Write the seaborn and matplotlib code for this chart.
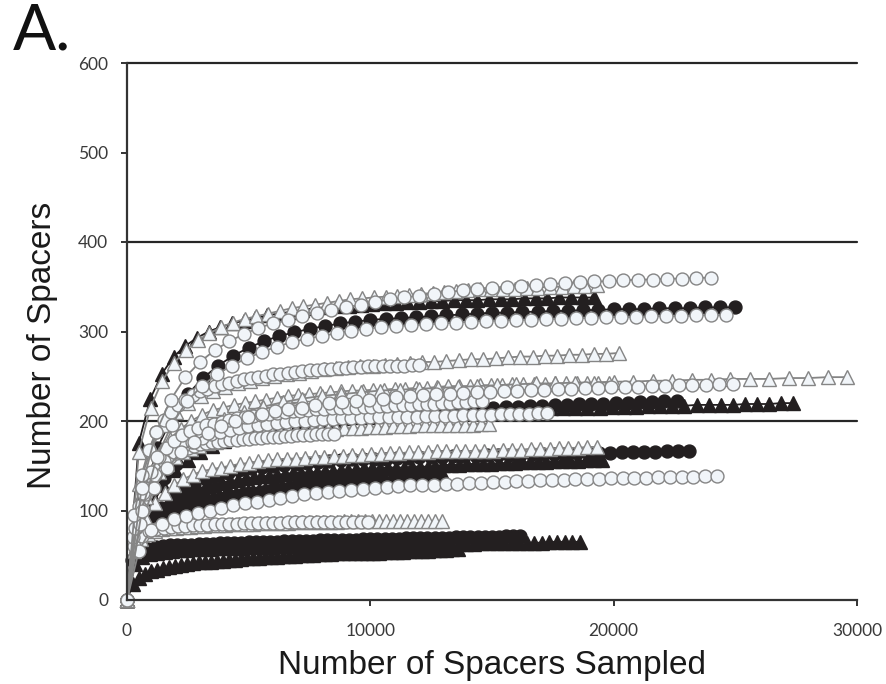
import numpy as np
import pandas as pd
import matplotlib
matplotlib.use("Agg")
import matplotlib.pyplot as plt
import seaborn as sns

# Rarefaction curves, panel A. Each curve: sampling step (spacers) and
# number of distinct spacers found at each step.

# ---- open circles ----
oc_360_step = 600
oc_360 = [0, 125, 188, 224, 249, 266, 279, 289, 297, 304, 309, 313, 317, 321, 324, 327, 330, 333, 336, 338,
          340, 342, 344, 346, 348, 349, 350, 351, 352, 353, 354, 355, 356, 356, 357, 358, 358, 359, 359, 360, 360]
oc_318_step = 615
oc_318 = [0, 100, 160, 196, 222, 239, 252, 262, 270, 277, 283, 288, 292, 295, 298, 301, 303, 305, 306, 307,
          308, 309, 310, 311, 312, 312, 313, 313, 314, 314, 315, 315, 316, 316, 316, 317, 317, 317, 318, 318, 318]
oc_263_step = 300
oc_263 = [0, 95, 140, 168, 188, 201, 210, 218, 224, 229, 233, 236, 239, 241, 243, 245, 247, 248, 249, 250,
          252, 253, 254, 255, 256, 257, 257, 258, 258, 259, 259, 260, 260, 261, 261, 261, 262, 262, 262, 263, 263]
oc_241_step = 553
oc_241 = [0, 85, 125, 148, 165, 177, 187, 194, 200, 204, 208, 211, 213, 215, 218, 220, 221, 222, 224, 225,
          227, 228, 229, 230, 230, 231, 232, 232, 233, 234, 235, 235, 236, 236, 237, 237, 238, 238, 238, 239,
          239, 240, 240, 240, 241, 241]
oc_222_step = 324
oc_222 = [0, 80, 120, 143, 160, 170, 178, 184, 189, 192, 195, 197, 199, 201, 203, 205, 206, 207, 208, 209,
          210, 211, 211, 212, 213, 213, 214, 214, 215, 215, 216, 216, 217, 217, 218, 218, 218, 219, 219, 219,
          220, 220, 221, 221, 222, 222]
oc_209_step = 384
oc_209 = [0, 80, 118, 140, 155, 165, 172, 177, 181, 185, 188, 190, 192, 194, 195, 197, 198, 199, 200, 200,
          201, 202, 202, 203, 203, 203, 204, 204, 204, 205, 205, 205, 206, 206, 206, 206, 207, 207, 207, 207,
          208, 208, 208, 208, 209, 209]
oc_186_step = 250
oc_186 = [0, 70, 105, 125, 138, 148, 155, 160, 164, 167, 170, 172, 174, 175, 176, 177, 178, 179, 179, 180,
          180, 181, 181, 182, 182, 182, 183, 183, 184, 184, 184, 185, 185, 185, 186]
oc_138_step = 485
oc_138 = [0, 55, 78, 85, 90, 94, 97, 100, 103, 106, 108, 110, 112, 114, 116, 118, 120, 121, 122, 123,
          124, 125, 126, 127, 128, 128, 129, 130, 130, 131, 131, 132, 132, 133, 133, 134, 134, 134, 135, 135,
          135, 136, 136, 136, 136, 137, 137, 137, 137, 138, 138]
oc_87_step = 300
oc_87 = [0, 60, 72, 77, 79, 81, 82, 83, 83, 84, 84, 84, 85, 85, 85, 85, 86, 86, 86, 86,
         86, 86, 87, 87, 87, 87, 87, 87, 87, 87, 87, 87, 87, 87]

# ---- open triangles ----
ot_352_step = 483
ot_352 = [0, 165, 215, 245, 265, 279, 290, 298, 305, 310, 314, 317, 320, 323, 326, 328, 330, 332, 334, 336,
          337, 338, 339, 340, 341, 342, 343, 344, 345, 346, 347, 347, 348, 348, 349, 349, 350, 350, 351, 351, 352]
ot_276_step = 505
ot_276 = [0, 130, 170, 195, 210, 220, 228, 234, 238, 242, 245, 248, 250, 252, 254, 256, 258, 259, 260, 261,
          262, 263, 264, 265, 266, 266, 267, 268, 269, 269, 270, 271, 272, 272, 273, 273, 274, 274, 275, 275, 276]
ot_249_step = 800
ot_249 = [0, 115, 155, 176, 192, 202, 210, 216, 221, 225, 228, 230, 232, 234, 235, 236, 237, 238, 239, 240,
          241, 242, 242, 243, 243, 244, 244, 245, 245, 246, 246, 247, 247, 247, 248, 248, 249, 249]
ot_243_step = 440
ot_243 = [0, 100, 140, 163, 180, 191, 200, 207, 212, 215, 218, 220, 222, 224, 226, 228, 229, 230, 231, 232,
          233, 234, 234, 235, 235, 236, 236, 237, 237, 238, 239, 239, 239, 240, 240, 240, 241, 241, 241, 241,
          242, 242, 242, 242, 243, 243]
ot_197_step = 331
ot_197 = [0, 75, 110, 130, 143, 152, 160, 165, 169, 172, 175, 177, 179, 181, 182, 184, 185, 186, 187, 188,
          189, 189, 190, 190, 191, 191, 191, 192, 192, 192, 193, 193, 193, 194, 194, 194, 195, 195, 195, 195,
          196, 196, 196, 196, 197, 197]
ot_171_step = 386
ot_171 = [0, 60, 90, 108, 120, 128, 135, 140, 144, 146, 148, 150, 152, 153, 155, 156, 157, 158, 158, 159,
          160, 160, 161, 161, 162, 162, 163, 163, 164, 164, 165, 165, 165, 166, 166, 166, 166, 167, 167, 167,
          168, 168, 168, 169, 169, 169, 170, 170, 170, 171, 171]
ot_88_step = 288
ot_88 = [0, 55, 68, 74, 77, 79, 80, 81, 82, 82, 83, 83, 84, 84, 84, 85, 85, 85, 85, 86,
         86, 86, 86, 86, 87, 87, 87, 87, 87, 87, 87, 88, 88, 88, 88, 88, 88, 88, 88, 88,
         88, 88, 88, 88, 88, 88]

# ---- filled circles ----
fc_327_step = 625
fc_327 = [0, 110, 170, 205, 230, 248, 262, 273, 282, 289, 295, 299, 303, 306, 309, 311, 313, 314, 315, 316,
          317, 318, 319, 320, 321, 321, 322, 322, 323, 323, 324, 324, 325, 325, 325, 326, 326, 326, 327, 327, 327]
fc_222_step = 502
fc_222 = [0, 75, 112, 136, 152, 163, 172, 179, 184, 188, 191, 194, 197, 199, 201, 203, 204, 205, 207, 208,
          209, 210, 211, 211, 212, 213, 213, 214, 214, 215, 215, 216, 216, 217, 217, 218, 218, 219, 219, 219,
          220, 220, 221, 221, 222, 222]
fc_166_step = 462
fc_166 = [0, 55, 85, 103, 115, 123, 130, 135, 139, 142, 145, 147, 149, 150, 151, 152, 153, 154, 155, 156,
          157, 157, 158, 158, 159, 159, 160, 160, 160, 161, 161, 161, 162, 162, 162, 162, 163, 163, 163, 163,
          164, 164, 164, 164, 165, 165, 165, 165, 166, 166, 166]
fc_137_step = 224
fc_137 = [0, 45, 62, 73, 80, 86, 90, 94, 97, 100, 102, 104, 106, 108, 109, 110, 112, 113, 114, 115,
          116, 117, 118, 119, 120, 121, 122, 123, 124, 124, 125, 126, 127, 128, 128, 129, 130, 131, 132, 132,
          133, 134, 135, 135, 136, 137]
fc_71_step = 294
fc_71 = [0, 45, 54, 57, 59, 60, 61, 61, 62, 62, 63, 63, 63, 64, 64, 64, 64, 65, 65, 65,
         65, 65, 66, 66, 66, 66, 66, 67, 67, 67, 67, 67, 67, 68, 68, 68, 68, 68, 68, 69,
         69, 69, 69, 69, 69, 69, 70, 70, 70, 70, 70, 70, 70, 71, 71, 71]

# ---- filled triangles ----
ft_338_step = 480
ft_338 = [0, 175, 225, 253, 272, 284, 293, 300, 305, 309, 312, 315, 318, 320, 322, 324, 326, 327, 328, 329,
          330, 331, 332, 332, 333, 333, 334, 334, 335, 335, 335, 336, 336, 336, 337, 337, 337, 338, 338, 338, 338]
ft_220_step = 498
ft_220 = [0, 70, 105, 128, 145, 156, 165, 172, 178, 182, 185, 188, 191, 193, 196, 198, 200, 201, 203, 204,
          205, 206, 207, 208, 209, 209, 210, 210, 211, 211, 212, 212, 213, 213, 213, 214, 214, 214, 215, 215,
          216, 216, 216, 217, 217, 217, 217, 218, 218, 218, 218, 219, 219, 219, 220, 220]
ft_156_step = 325
ft_156 = [0, 50, 75, 90, 100, 107, 113, 117, 121, 124, 127, 129, 131, 133, 134, 136, 137, 138, 139, 140,
          141, 142, 142, 143, 143, 144, 144, 145, 145, 146, 147, 147, 147, 148, 148, 148, 149, 149, 149, 150,
          151, 151, 151, 152, 152, 152, 152, 153, 153, 153, 154, 154, 154, 154, 155, 155, 155, 155, 156, 156, 156]
ft_140_step = 236
ft_140 = [0, 50, 68, 80, 88, 95, 100, 103, 106, 108, 110, 112, 113, 114, 115, 116, 117, 118, 119, 120,
          121, 122, 122, 123, 124, 125, 125, 126, 127, 127, 128, 128, 129, 130, 130, 131, 131, 132, 132, 133,
          133, 134, 134, 135, 135, 136, 136, 137, 137, 137, 138, 138, 139, 139, 139, 140]
ft_65_step = 310
ft_65 = [0, 40, 48, 51, 53, 54, 55, 56, 56, 57, 57, 57, 58, 58, 58, 58, 59, 59, 59, 59,
         60, 60, 60, 60, 60, 60, 61, 61, 61, 61, 62, 62, 62, 62, 62, 62, 62, 62, 63, 63,
         63, 63, 63, 63, 63, 63, 63, 64, 64, 64, 64, 64, 64, 64, 64, 64, 65, 65, 65, 65, 65]
ft_57_step = 247
ft_57 = [0, 18, 25, 29, 32, 34, 36, 37, 38, 39, 40, 41, 42, 42, 43, 44, 44, 45, 45, 46,
         47, 47, 47, 48, 48, 48, 49, 49, 49, 50, 50, 50, 51, 51, 51, 52, 52, 52, 52, 53,
         53, 53, 53, 54, 54, 54, 54, 55, 55, 55, 55, 56, 56, 56, 57, 57]

# drawing order: filled first, then open triangles, open circles on top
curves = [
    ("ft", ft_57_step, ft_57), ("ft", ft_65_step, ft_65), ("fc", fc_71_step, fc_71),
    ("fc", fc_137_step, fc_137), ("ft", ft_140_step, ft_140), ("ft", ft_156_step, ft_156),
    ("fc", fc_166_step, fc_166), ("ft", ft_220_step, ft_220), ("fc", fc_222_step, fc_222),
    ("ft", ft_338_step, ft_338), ("fc", fc_327_step, fc_327),
    ("ot", ot_88_step, ot_88), ("ot", ot_171_step, ot_171), ("ot", ot_197_step, ot_197),
    ("ot", ot_243_step, ot_243), ("ot", ot_249_step, ot_249), ("ot", ot_276_step, ot_276),
    ("ot", ot_352_step, ot_352),
    ("oc", oc_87_step, oc_87), ("oc", oc_138_step, oc_138), ("oc", oc_186_step, oc_186),
    ("oc", oc_209_step, oc_209), ("oc", oc_222_step, oc_222), ("oc", oc_241_step, oc_241),
    ("oc", oc_263_step, oc_263), ("oc", oc_318_step, oc_318), ("oc", oc_360_step, oc_360),
]

BLACK = "#231f20"
GREY = "#858585"
PALE = "#f1f5f9"
styles = {
    "fc": dict(marker="o", markersize=9.3, markerfacecolor=BLACK, markeredgecolor=BLACK, color=BLACK),
    "ft": dict(marker="^", markersize=10, markerfacecolor=BLACK, markeredgecolor=BLACK, color=BLACK),
    "oc": dict(marker="o", markersize=9.3, markerfacecolor=PALE, markeredgecolor=GREY, color=GREY),
    "ot": dict(marker="^", markersize=10, markerfacecolor=PALE, markeredgecolor=GREY, color=GREY),
}

sns.set_theme(style="white")
plt.rcParams["font.family"] = ["Lato", "DejaVu Sans"]

fig = plt.figure(figsize=(8.86, 6.84), dpi=100)
ax = fig.add_axes([127 / 886, 1 - 600 / 684, 730 / 886, 537 / 684])

for kind, step, counts in curves:
    df = pd.DataFrame({"sampled": np.arange(len(counts)) * step, "spacers": counts})
    sns.lineplot(data=df, x="sampled", y="spacers", ax=ax, sort=False, estimator=None,
                 linewidth=1.3, markeredgewidth=1.0, clip_on=False, **styles[kind])

for y in (200, 400, 600):
    ax.axhline(y, color="#262626", linewidth=1.6, zorder=0.5, clip_on=False)

ax.set_xlim(0, 30000)
ax.set_ylim(0, 600)
ax.set_xticks([0, 10000, 20000, 30000])
ax.set_yticks(range(0, 601, 100))
for side in ("top", "right"):
    ax.spines[side].set_visible(False)
for side in ("left", "bottom"):
    ax.spines[side].set_color("#333333")
    ax.spines[side].set_linewidth(1.6)
ax.tick_params(axis="both", direction="out", length=4.5, width=1.4, color="#333333",
               labelsize=12.5, labelcolor="#3a3a3a", pad=9, left=True, bottom=True)
ax.tick_params(axis="x", pad=12)

ax.set_xlabel("Number of Spacers Sampled", fontsize=24, family="Liberation Sans", color="#1a1a1a")
ax.set_ylabel("Number of Spacers", fontsize=24, family="Liberation Sans", color="#1a1a1a")
ax.xaxis.set_label_coords(0.5, -0.094)
ax.yaxis.set_label_coords(-0.095, 0.475)

fig.text(0.014, 0.928, "A.", fontsize=46, family="Lato", color="#111111", va="baseline")

fig.savefig("out.png", dpi=100)
